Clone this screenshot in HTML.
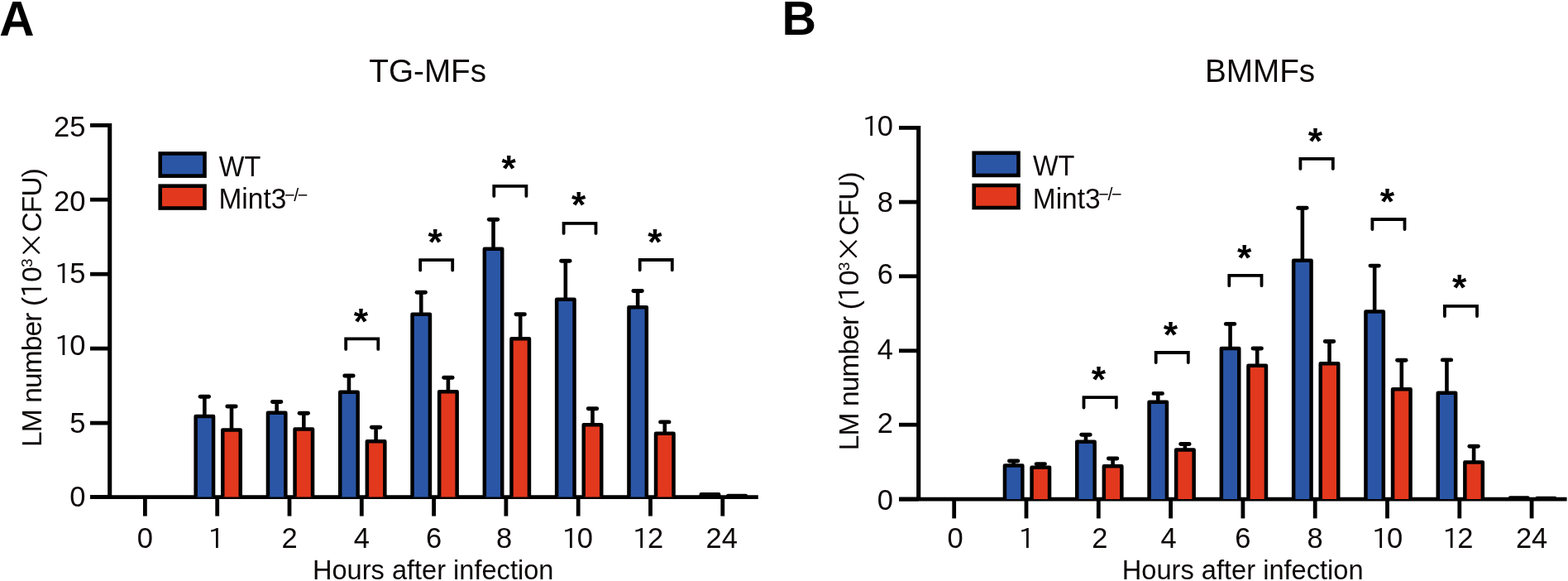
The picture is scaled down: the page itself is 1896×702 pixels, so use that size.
<!DOCTYPE html>
<html><head><meta charset="utf-8"><title>LM number charts</title>
<style>
html,body{margin:0;padding:0;background:#fff;}
body{width:1896px;height:702px;overflow:hidden;}
svg{display:block;}
.t{font-family:"Liberation Sans",Arial,sans-serif;font-size:33.5px;fill:#0d0808;}
.ti{font-family:"Liberation Sans",Arial,sans-serif;font-size:38.7px;fill:#0d0808;}
.tk{font-family:"Liberation Sans",Arial,sans-serif;font-size:34.5px;fill:#0d0808;}
.lg{font-family:"Liberation Sans",Arial,sans-serif;font-size:35px;fill:#0d0808;}
.one{font-family:"IPAPGothic","Liberation Sans",sans-serif;font-size:32px;letter-spacing:-2px;}
.pl{font-family:"Liberation Sans",Arial,sans-serif;font-size:57px;font-weight:bold;fill:#000;}
.s{font-family:"Liberation Sans",Arial,sans-serif;font-size:44.5px;font-weight:bold;fill:#000;}
.sup{font-size:21.5px;letter-spacing:-1.4px;}
.sup3{font-size:19.2px;}
.one1{font-family:"IPAPGothic","Liberation Sans",sans-serif;font-size:31.5px;}
.x{font-family:"Noto Sans CJK JP","Liberation Sans",sans-serif;font-feature-settings:'fwid';font-size:33.5px;}
</style></head>
<body>
<svg width="1896" height="702" viewBox="0 0 1896 702">
<rect width="1896" height="702" fill="#fff"/>
<path d="M132.70 148.90V600.60" stroke="#000" stroke-width="5.1" fill="none"/>
<path d="M109.00 600.60H916.80" stroke="#000" stroke-width="4.6" fill="none"/>
<path d="M109.00 151.40H132.70" stroke="#000" stroke-width="4.8" fill="none"/>
<text x="103.40" y="164.50" text-anchor="end" class="tk">25</text>
<path d="M109.00 241.20H132.70" stroke="#000" stroke-width="4.8" fill="none"/>
<text x="103.40" y="254.70" text-anchor="end" class="tk">20</text>
<path d="M109.00 331.20H132.70" stroke="#000" stroke-width="4.8" fill="none"/>
<text x="103.40" y="341.50" text-anchor="end" class="tk"><tspan class="one">1</tspan>5</text>
<path d="M109.00 421.10H132.70" stroke="#000" stroke-width="4.8" fill="none"/>
<text x="103.40" y="429.30" text-anchor="end" class="tk"><tspan class="one">1</tspan>0</text>
<path d="M109.00 511.10H132.70" stroke="#000" stroke-width="4.8" fill="none"/>
<text x="103.40" y="522.50" text-anchor="end" class="tk">5</text>
<path d="M109.00 600.60H132.70" stroke="#000" stroke-width="4.8" fill="none"/>
<text x="103.40" y="611.80" text-anchor="end" class="tk">0</text>
<path d="M175.40 600.60V623.60" stroke="#000" stroke-width="4.8" fill="none"/>
<text x="175.40" y="661.80" text-anchor="middle" class="tk">0</text>
<path d="M262.70 600.60V623.60" stroke="#000" stroke-width="4.8" fill="none"/>
<text x="260.70" y="661.80" text-anchor="middle" class="tk"><tspan class="one">1</tspan></text>
<path d="M350.00 600.60V623.60" stroke="#000" stroke-width="4.8" fill="none"/>
<text x="350.00" y="661.80" text-anchor="middle" class="tk">2</text>
<path d="M437.30 600.60V623.60" stroke="#000" stroke-width="4.8" fill="none"/>
<text x="437.30" y="661.80" text-anchor="middle" class="tk">4</text>
<path d="M524.60 600.60V623.60" stroke="#000" stroke-width="4.8" fill="none"/>
<text x="524.60" y="661.80" text-anchor="middle" class="tk">6</text>
<path d="M611.90 600.60V623.60" stroke="#000" stroke-width="4.8" fill="none"/>
<text x="609.70" y="661.80" text-anchor="middle" class="tk">8</text>
<path d="M699.20 600.60V623.60" stroke="#000" stroke-width="4.8" fill="none"/>
<text x="698.20" y="661.80" text-anchor="middle" class="tk"><tspan class="one">1</tspan>0</text>
<path d="M786.50 600.60V623.60" stroke="#000" stroke-width="4.8" fill="none"/>
<text x="783.50" y="661.80" text-anchor="middle" class="tk"><tspan class="one">1</tspan>2</text>
<path d="M873.80 600.60V623.60" stroke="#000" stroke-width="4.8" fill="none"/>
<text x="872.80" y="661.80" text-anchor="middle" class="tk">24</text>
<path d="M247.35 503.05V479.20" stroke="#000" stroke-width="4.6" fill="none"/>
<path d="M242.15 479.20H252.55" stroke="#000" stroke-width="4.9" stroke-linecap="round" fill="none"/>
<path d="M236.65 600.60V503.05H258.05V600.60" stroke="#000" stroke-width="4.5" stroke-linejoin="round" fill="#2b56a6"/>
<path d="M280.00 519.45V491.00" stroke="#000" stroke-width="4.6" fill="none"/>
<path d="M274.80 491.00H285.20" stroke="#000" stroke-width="4.9" stroke-linecap="round" fill="none"/>
<path d="M269.25 600.60V519.45H290.75V600.60" stroke="#000" stroke-width="4.5" stroke-linejoin="round" fill="#e2381e"/>
<path d="M334.65 498.65V485.50" stroke="#000" stroke-width="4.6" fill="none"/>
<path d="M329.45 485.50H339.85" stroke="#000" stroke-width="4.9" stroke-linecap="round" fill="none"/>
<path d="M323.95 600.60V498.65H345.35V600.60" stroke="#000" stroke-width="4.5" stroke-linejoin="round" fill="#2b56a6"/>
<path d="M367.30 518.55V499.30" stroke="#000" stroke-width="4.6" fill="none"/>
<path d="M362.10 499.30H372.50" stroke="#000" stroke-width="4.9" stroke-linecap="round" fill="none"/>
<path d="M356.55 600.60V518.55H378.05V600.60" stroke="#000" stroke-width="4.5" stroke-linejoin="round" fill="#e2381e"/>
<path d="M421.95 473.75V454.00" stroke="#000" stroke-width="4.6" fill="none"/>
<path d="M416.75 454.00H427.15" stroke="#000" stroke-width="4.9" stroke-linecap="round" fill="none"/>
<path d="M411.25 600.60V473.75H432.65V600.60" stroke="#000" stroke-width="4.5" stroke-linejoin="round" fill="#2b56a6"/>
<path d="M454.60 533.25V516.30" stroke="#000" stroke-width="4.6" fill="none"/>
<path d="M449.40 516.30H459.80" stroke="#000" stroke-width="4.9" stroke-linecap="round" fill="none"/>
<path d="M443.85 600.60V533.25H465.35V600.60" stroke="#000" stroke-width="4.5" stroke-linejoin="round" fill="#e2381e"/>
<path d="M509.25 379.75V353.20" stroke="#000" stroke-width="4.6" fill="none"/>
<path d="M504.05 353.20H514.45" stroke="#000" stroke-width="4.9" stroke-linecap="round" fill="none"/>
<path d="M498.55 600.60V379.75H519.95V600.60" stroke="#000" stroke-width="4.5" stroke-linejoin="round" fill="#2b56a6"/>
<path d="M541.90 473.25V456.20" stroke="#000" stroke-width="4.6" fill="none"/>
<path d="M536.70 456.20H547.10" stroke="#000" stroke-width="4.9" stroke-linecap="round" fill="none"/>
<path d="M531.15 600.60V473.25H552.65V600.60" stroke="#000" stroke-width="4.5" stroke-linejoin="round" fill="#e2381e"/>
<path d="M596.55 300.75V265.20" stroke="#000" stroke-width="4.6" fill="none"/>
<path d="M591.35 265.20H601.75" stroke="#000" stroke-width="4.9" stroke-linecap="round" fill="none"/>
<path d="M585.85 600.60V300.75H607.25V600.60" stroke="#000" stroke-width="4.5" stroke-linejoin="round" fill="#2b56a6"/>
<path d="M629.20 409.15V379.80" stroke="#000" stroke-width="4.6" fill="none"/>
<path d="M624.00 379.80H634.40" stroke="#000" stroke-width="4.9" stroke-linecap="round" fill="none"/>
<path d="M618.45 600.60V409.15H639.95V600.60" stroke="#000" stroke-width="4.5" stroke-linejoin="round" fill="#e2381e"/>
<path d="M683.85 361.75V315.20" stroke="#000" stroke-width="4.6" fill="none"/>
<path d="M678.65 315.20H689.05" stroke="#000" stroke-width="4.9" stroke-linecap="round" fill="none"/>
<path d="M673.15 600.60V361.75H694.55V600.60" stroke="#000" stroke-width="4.5" stroke-linejoin="round" fill="#2b56a6"/>
<path d="M716.50 513.15V493.80" stroke="#000" stroke-width="4.6" fill="none"/>
<path d="M711.30 493.80H721.70" stroke="#000" stroke-width="4.9" stroke-linecap="round" fill="none"/>
<path d="M705.75 600.60V513.15H727.25V600.60" stroke="#000" stroke-width="4.5" stroke-linejoin="round" fill="#e2381e"/>
<path d="M771.15 371.15V351.50" stroke="#000" stroke-width="4.6" fill="none"/>
<path d="M765.95 351.50H776.35" stroke="#000" stroke-width="4.9" stroke-linecap="round" fill="none"/>
<path d="M760.45 600.60V371.15H781.85V600.60" stroke="#000" stroke-width="4.5" stroke-linejoin="round" fill="#2b56a6"/>
<path d="M803.80 523.75V509.90" stroke="#000" stroke-width="4.6" fill="none"/>
<path d="M798.60 509.90H809.00" stroke="#000" stroke-width="4.9" stroke-linecap="round" fill="none"/>
<path d="M793.05 600.60V523.75H814.55V600.60" stroke="#000" stroke-width="4.5" stroke-linejoin="round" fill="#e2381e"/>
<path d="M847.75 600.60V597.20H869.15V600.60" stroke="#000" stroke-width="4.5" stroke-linejoin="round" fill="none"/>
<path d="M880.35 600.60V599.00H901.85V600.60" stroke="#000" stroke-width="4.5" stroke-linejoin="round" fill="none"/>
<path d="M418.20 421.90V409.30H457.30V421.90" stroke="#000" stroke-width="3.8" stroke-linecap="round" stroke-linejoin="miter" fill="none"/>
<path d="M508.20 326.50V314.20H547.20V326.50" stroke="#000" stroke-width="3.8" stroke-linecap="round" stroke-linejoin="miter" fill="none"/>
<path d="M597.30 236.90V224.90H636.40V236.90" stroke="#000" stroke-width="3.8" stroke-linecap="round" stroke-linejoin="miter" fill="none"/>
<path d="M681.60 281.90V269.90H720.50V281.90" stroke="#000" stroke-width="3.8" stroke-linecap="round" stroke-linejoin="miter" fill="none"/>
<path d="M773.70 326.30V314.00H812.80V326.30" stroke="#000" stroke-width="3.8" stroke-linecap="round" stroke-linejoin="miter" fill="none"/>
<text x="436.30" y="403.60" text-anchor="middle" class="s">*</text>
<text x="526.05" y="308.40" text-anchor="middle" class="s">*</text>
<text x="615.15" y="218.70" text-anchor="middle" class="s">*</text>
<text x="699.65" y="263.30" text-anchor="middle" class="s">*</text>
<text x="791.85" y="308.10" text-anchor="middle" class="s">*</text>
<rect x="193.70" y="185.50" width="53.80" height="27.10" fill="#2b56a6" stroke="#000" stroke-width="4.6"/>
<rect x="193.70" y="224.70" width="53.80" height="26.80" fill="#e2381e" stroke="#000" stroke-width="4.6"/>
<text x="264.80" y="212.70" class="lg" textLength="50.5" lengthAdjust="spacingAndGlyphs">WT</text>
<text x="264.50" y="252.30" class="lg" textLength="81.8" lengthAdjust="spacingAndGlyphs">Mint3</text>
<text x="344.00" y="242.90" class="lg sup">−/−</text>
<text x="517.20" y="98.90" text-anchor="middle" class="ti">TG-MFs</text>
<text x="523.70" y="699.70" text-anchor="middle" class="t" textLength="291.5" lengthAdjust="spacingAndGlyphs">Hours after infection</text>
<text transform="translate(50.00 540.05) rotate(-90)" class="t" textLength="337.0" lengthAdjust="spacing">LM number (<tspan class="one1">1</tspan>0<tspan class="sup3" dy="-11.5">3</tspan><tspan dy="11.5" class="x">×</tspan>CFU)</text>
<text x="-0.80" y="42.50" class="pl" style="font-size:58.5px">A</text>
<path d="M1110.70 151.90V603.10" stroke="#000" stroke-width="5.1" fill="none"/>
<path d="M1087.00 603.10H1894.60" stroke="#000" stroke-width="4.6" fill="none"/>
<path d="M1087.00 154.40H1110.70" stroke="#000" stroke-width="4.8" fill="none"/>
<text x="1080.00" y="164.30" text-anchor="end" class="tk"><tspan class="one">1</tspan>0</text>
<path d="M1087.00 244.10H1110.70" stroke="#000" stroke-width="4.8" fill="none"/>
<text x="1080.00" y="256.40" text-anchor="end" class="tk">8</text>
<path d="M1087.00 333.80H1110.70" stroke="#000" stroke-width="4.8" fill="none"/>
<text x="1080.00" y="343.30" text-anchor="end" class="tk">6</text>
<path d="M1087.00 423.80H1110.70" stroke="#000" stroke-width="4.8" fill="none"/>
<text x="1080.00" y="434.10" text-anchor="end" class="tk">4</text>
<path d="M1087.00 513.20H1110.70" stroke="#000" stroke-width="4.8" fill="none"/>
<text x="1080.00" y="522.90" text-anchor="end" class="tk">2</text>
<path d="M1087.00 603.10H1110.70" stroke="#000" stroke-width="4.8" fill="none"/>
<text x="1080.00" y="615.70" text-anchor="end" class="tk">0</text>
<path d="M1153.70 603.10V626.40" stroke="#000" stroke-width="4.8" fill="none"/>
<text x="1155.20" y="661.80" text-anchor="middle" class="tk">0</text>
<path d="M1241.00 603.10V626.40" stroke="#000" stroke-width="4.8" fill="none"/>
<text x="1240.50" y="661.80" text-anchor="middle" class="tk"><tspan class="one">1</tspan></text>
<path d="M1328.30 603.10V626.40" stroke="#000" stroke-width="4.8" fill="none"/>
<text x="1329.90" y="661.80" text-anchor="middle" class="tk">2</text>
<path d="M1415.60 603.10V626.40" stroke="#000" stroke-width="4.8" fill="none"/>
<text x="1413.20" y="661.80" text-anchor="middle" class="tk">4</text>
<path d="M1502.90 603.10V626.40" stroke="#000" stroke-width="4.8" fill="none"/>
<text x="1502.90" y="661.80" text-anchor="middle" class="tk">6</text>
<path d="M1590.20 603.10V626.40" stroke="#000" stroke-width="4.8" fill="none"/>
<text x="1590.20" y="661.80" text-anchor="middle" class="tk">8</text>
<path d="M1677.50 603.10V626.40" stroke="#000" stroke-width="4.8" fill="none"/>
<text x="1677.50" y="661.80" text-anchor="middle" class="tk"><tspan class="one">1</tspan>0</text>
<path d="M1764.80 603.10V626.40" stroke="#000" stroke-width="4.8" fill="none"/>
<text x="1762.80" y="661.80" text-anchor="middle" class="tk"><tspan class="one">1</tspan>2</text>
<path d="M1852.10 603.10V626.40" stroke="#000" stroke-width="4.8" fill="none"/>
<text x="1852.10" y="661.80" text-anchor="middle" class="tk">24</text>
<path d="M1225.65 562.55V557.00" stroke="#000" stroke-width="4.6" fill="none"/>
<path d="M1220.45 557.00H1230.85" stroke="#000" stroke-width="4.9" stroke-linecap="round" fill="none"/>
<path d="M1214.95 603.10V562.55H1236.35V603.10" stroke="#000" stroke-width="4.5" stroke-linejoin="round" fill="#2b56a6"/>
<path d="M1258.30 564.65V560.60" stroke="#000" stroke-width="4.6" fill="none"/>
<path d="M1253.10 560.60H1263.50" stroke="#000" stroke-width="4.9" stroke-linecap="round" fill="none"/>
<path d="M1247.55 603.10V564.65H1269.05V603.10" stroke="#000" stroke-width="4.5" stroke-linejoin="round" fill="#e2381e"/>
<path d="M1312.95 533.85V525.20" stroke="#000" stroke-width="4.6" fill="none"/>
<path d="M1307.75 525.20H1318.15" stroke="#000" stroke-width="4.9" stroke-linecap="round" fill="none"/>
<path d="M1302.25 603.10V533.85H1323.65V603.10" stroke="#000" stroke-width="4.5" stroke-linejoin="round" fill="#2b56a6"/>
<path d="M1345.60 563.25V554.00" stroke="#000" stroke-width="4.6" fill="none"/>
<path d="M1340.40 554.00H1350.80" stroke="#000" stroke-width="4.9" stroke-linecap="round" fill="none"/>
<path d="M1334.85 603.10V563.25H1356.35V603.10" stroke="#000" stroke-width="4.5" stroke-linejoin="round" fill="#e2381e"/>
<path d="M1400.25 485.75V475.40" stroke="#000" stroke-width="4.6" fill="none"/>
<path d="M1395.05 475.40H1405.45" stroke="#000" stroke-width="4.9" stroke-linecap="round" fill="none"/>
<path d="M1389.55 603.10V485.75H1410.95V603.10" stroke="#000" stroke-width="4.5" stroke-linejoin="round" fill="#2b56a6"/>
<path d="M1432.90 543.45V536.50" stroke="#000" stroke-width="4.6" fill="none"/>
<path d="M1427.70 536.50H1438.10" stroke="#000" stroke-width="4.9" stroke-linecap="round" fill="none"/>
<path d="M1422.15 603.10V543.45H1443.65V603.10" stroke="#000" stroke-width="4.5" stroke-linejoin="round" fill="#e2381e"/>
<path d="M1487.55 420.95V391.40" stroke="#000" stroke-width="4.6" fill="none"/>
<path d="M1482.35 391.40H1492.75" stroke="#000" stroke-width="4.9" stroke-linecap="round" fill="none"/>
<path d="M1476.85 603.10V420.95H1498.25V603.10" stroke="#000" stroke-width="4.5" stroke-linejoin="round" fill="#2b56a6"/>
<path d="M1520.20 441.75V421.00" stroke="#000" stroke-width="4.6" fill="none"/>
<path d="M1515.00 421.00H1525.40" stroke="#000" stroke-width="4.9" stroke-linecap="round" fill="none"/>
<path d="M1509.45 603.10V441.75H1530.95V603.10" stroke="#000" stroke-width="4.5" stroke-linejoin="round" fill="#e2381e"/>
<path d="M1574.85 314.65V251.30" stroke="#000" stroke-width="4.6" fill="none"/>
<path d="M1569.65 251.30H1580.05" stroke="#000" stroke-width="4.9" stroke-linecap="round" fill="none"/>
<path d="M1564.15 603.10V314.65H1585.55V603.10" stroke="#000" stroke-width="4.5" stroke-linejoin="round" fill="#2b56a6"/>
<path d="M1607.50 439.25V412.50" stroke="#000" stroke-width="4.6" fill="none"/>
<path d="M1602.30 412.50H1612.70" stroke="#000" stroke-width="4.9" stroke-linecap="round" fill="none"/>
<path d="M1596.75 603.10V439.25H1618.25V603.10" stroke="#000" stroke-width="4.5" stroke-linejoin="round" fill="#e2381e"/>
<path d="M1662.15 376.45V321.10" stroke="#000" stroke-width="4.6" fill="none"/>
<path d="M1656.95 321.10H1667.35" stroke="#000" stroke-width="4.9" stroke-linecap="round" fill="none"/>
<path d="M1651.45 603.10V376.45H1672.85V603.10" stroke="#000" stroke-width="4.5" stroke-linejoin="round" fill="#2b56a6"/>
<path d="M1694.80 470.35V435.30" stroke="#000" stroke-width="4.6" fill="none"/>
<path d="M1689.60 435.30H1700.00" stroke="#000" stroke-width="4.9" stroke-linecap="round" fill="none"/>
<path d="M1684.05 603.10V470.35H1705.55V603.10" stroke="#000" stroke-width="4.5" stroke-linejoin="round" fill="#e2381e"/>
<path d="M1749.45 474.80V434.90" stroke="#000" stroke-width="4.6" fill="none"/>
<path d="M1744.25 434.90H1754.65" stroke="#000" stroke-width="4.9" stroke-linecap="round" fill="none"/>
<path d="M1738.75 603.10V474.80H1760.15V603.10" stroke="#000" stroke-width="4.5" stroke-linejoin="round" fill="#2b56a6"/>
<path d="M1782.10 558.50V539.20" stroke="#000" stroke-width="4.6" fill="none"/>
<path d="M1776.90 539.20H1787.30" stroke="#000" stroke-width="4.9" stroke-linecap="round" fill="none"/>
<path d="M1771.35 603.10V558.50H1792.85V603.10" stroke="#000" stroke-width="4.5" stroke-linejoin="round" fill="#e2381e"/>
<path d="M1826.05 603.10V601.60H1847.45V603.10" stroke="#000" stroke-width="4.5" stroke-linejoin="round" fill="none"/>
<path d="M1858.65 603.10V601.90H1880.15V603.10" stroke="#000" stroke-width="4.5" stroke-linejoin="round" fill="none"/>
<path d="M1310.50 492.50V480.10H1349.80V492.50" stroke="#000" stroke-width="3.8" stroke-linecap="round" stroke-linejoin="miter" fill="none"/>
<path d="M1397.70 438.10V426.00H1436.80V438.10" stroke="#000" stroke-width="3.8" stroke-linecap="round" stroke-linejoin="miter" fill="none"/>
<path d="M1486.30 345.20V332.80H1525.50V345.20" stroke="#000" stroke-width="3.8" stroke-linecap="round" stroke-linejoin="miter" fill="none"/>
<path d="M1572.40 203.90V191.80H1611.80V203.90" stroke="#000" stroke-width="3.8" stroke-linecap="round" stroke-linejoin="miter" fill="none"/>
<path d="M1659.40 277.00V265.00H1698.50V277.00" stroke="#000" stroke-width="3.8" stroke-linecap="round" stroke-linejoin="miter" fill="none"/>
<path d="M1746.90 382.10V369.90H1786.00V382.10" stroke="#000" stroke-width="3.8" stroke-linecap="round" stroke-linejoin="miter" fill="none"/>
<text x="1328.45" y="474.00" text-anchor="middle" class="s">*</text>
<text x="1415.50" y="419.80" text-anchor="middle" class="s">*</text>
<text x="1504.55" y="326.70" text-anchor="middle" class="s">*</text>
<text x="1590.45" y="185.60" text-anchor="middle" class="s">*</text>
<text x="1677.50" y="258.80" text-anchor="middle" class="s">*</text>
<text x="1764.70" y="363.30" text-anchor="middle" class="s">*</text>
<rect x="1177.70" y="184.80" width="53.80" height="27.10" fill="#2b56a6" stroke="#000" stroke-width="4.6"/>
<rect x="1177.70" y="224.00" width="53.80" height="27.00" fill="#e2381e" stroke="#000" stroke-width="4.6"/>
<text x="1248.90" y="212.30" class="lg" textLength="50.5" lengthAdjust="spacingAndGlyphs">WT</text>
<text x="1248.80" y="251.50" class="lg" textLength="81.8" lengthAdjust="spacingAndGlyphs">Mint3</text>
<text x="1328.30" y="242.10" class="lg sup">−/−</text>
<text x="1523.50" y="98.70" text-anchor="middle" class="ti">BMMFs</text>
<text x="1502.70" y="700.40" text-anchor="middle" class="t" textLength="291.8" lengthAdjust="spacingAndGlyphs">Hours after infection</text>
<text transform="translate(1038.20 544.35) rotate(-90)" class="t" textLength="337.0" lengthAdjust="spacing">LM number (<tspan class="one1">1</tspan>0<tspan class="sup3" dy="-11.5">3</tspan><tspan dy="11.5" class="x">×</tspan>CFU)</text>
<text x="945.60" y="42.30" class="pl" style="font-size:57.5px">B</text>
</svg>
</body></html>
